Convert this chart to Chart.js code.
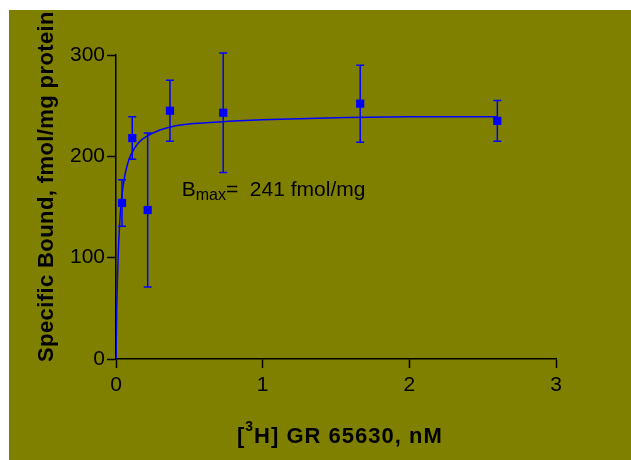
<!DOCTYPE html>
<html>
<head>
<meta charset="utf-8">
<script src="https://cdn.jsdelivr.net/npm/chart.js@4.4.1/dist/chart.umd.min.js"></script>
<style>
    html, body { margin: 0; padding: 0; background: #ffffff; }
    #wrap {
        position: absolute;
        left: 9px; top: 10px;
        width: 622px; height: 450px;
        background: #808000;
    }
</style>
</head>
<body>
<div id="wrap"><canvas id="chart"></canvas></div>
<script>
// Measured points (concentration, nM) with SEM
const doseX = [0.041, 0.111, 0.216, 0.368, 0.731, 1.665, 2.6];
const boundY = [154, 218, 147, 245, 243, 252, 235];
const boundErr = [23, 21, 76, 30, 59, 38, 20];

// Fitted saturation curve
const curveX = [0, 0.005, 0.01, 0.02, 0.03, 0.04, 0.06, 0.08, 0.1, 0.15, 0.2, 0.3, 0.4, 0.5, 0.7, 1, 1.5, 2, 2.6];
const curveY = [0, 48, 80, 120, 145, 161, 181, 193, 201, 213, 219, 226, 230, 232, 234, 236, 238, 239, 239];

const xTicks = [0, 1, 2, 3];
const yTicks = [0, 100, 200, 300];

const BLUE = '#0000ff';
const FONT = "'Liberation Sans', Arial, sans-serif";

// Bmax annotation anchor (data coords)
const bmaxAt = { x: 0.448, y: 161 };

const errorBars = {
    id: 'errorBars',
    afterDatasetsDraw(chart) {
        const { ctx, scales: { x, y } } = chart;
        ctx.save();
        ctx.strokeStyle = BLUE;
        ctx.lineWidth = 1.5;
        doseX.forEach((dx, i) => {
            const px = x.getPixelForValue(dx);
            const top = y.getPixelForValue(boundY[i] + boundErr[i]);
            const bot = y.getPixelForValue(boundY[i] - boundErr[i]);
            ctx.beginPath();
            ctx.moveTo(px, top); ctx.lineTo(px, bot);
            ctx.moveTo(px - 4, top); ctx.lineTo(px + 4, top);
            ctx.moveTo(px - 4, bot); ctx.lineTo(px + 4, bot);
            ctx.stroke();
        });
        ctx.restore();
    }
};

const labels = {
    id: 'labels',
    afterDraw(chart) {
        const { ctx, scales: { x, y } } = chart;
        ctx.save();
        ctx.fillStyle = '#000';
        ctx.textBaseline = 'alphabetic';

        // y title
        ctx.save();
        ctx.translate(44, 352);
        ctx.rotate(-Math.PI / 2);
        ctx.font = 'bold 22px ' + FONT;
        ctx.letterSpacing = '0.4px';
        ctx.textAlign = 'left';
        ctx.fillText('Specific Bound, fmol/mg protein', 0, 0);
        ctx.restore();

        // x title with superscript
        ctx.textAlign = 'left';
        ctx.letterSpacing = '1px';
        let cx = 228;
        const base = 433;
        ctx.font = 'bold 22px ' + FONT;
        ctx.fillText('[', cx, base);
        cx += ctx.measureText('[').width;
        ctx.font = 'bold 14px ' + FONT;
        ctx.fillText('3', cx, base - 12);
        cx += ctx.measureText('3').width;
        ctx.font = 'bold 22px ' + FONT;
        ctx.fillText('H] GR 65630, nM', cx, base);

        // Bmax annotation
        ctx.letterSpacing = '0px';
        let bx = x.getPixelForValue(bmaxAt.x);
        const by = y.getPixelForValue(bmaxAt.y);
        ctx.font = '21px ' + FONT;
        ctx.fillText('B', bx, by);
        bx += ctx.measureText('B').width;
        ctx.font = '16px ' + FONT;
        ctx.fillText('max', bx, by + 4);
        bx += ctx.measureText('max').width;
        ctx.font = '21px ' + FONT;
        ctx.fillText('=  241 fmol/mg', bx, by);
        ctx.restore();
    }
};

const axisStyle = {
    grid: {
        drawOnChartArea: false,
        drawTicks: true,
        tickLength: 9,
        tickColor: '#000',
        tickWidth: 1.5
    },
    border: { display: true, color: '#000', width: 1.5 },
    ticks: {
        color: '#000',
        font: { family: FONT, size: 21 },
        padding: 2
    }
};

new Chart(document.getElementById('chart'), {
    type: 'scatter',
    data: {
        datasets: [
            {
                type: 'line',
                data: curveX.map((v, i) => ({ x: v, y: curveY[i] })),
                borderColor: BLUE,
                borderWidth: 1.5,
                pointRadius: 0,
                cubicInterpolationMode: 'monotone',
                fill: false
            },
            {
                data: doseX.map((v, i) => ({ x: v, y: boundY[i] })),
                pointStyle: 'rect',
                pointRadius: 5.8,
                backgroundColor: BLUE,
                borderWidth: 0
            }
        ]
    },
    options: {
        responsive: true,
        maintainAspectRatio: false,
        animation: false,
        layout: { padding: { top: 45, right: 75, left: 0, bottom: 0 } },
        plugins: {
            legend: { display: false },
            tooltip: { enabled: false }
        },
        scales: {
            x: {
                type: 'linear',
                min: 0, max: 3,
                grid: axisStyle.grid,
                border: axisStyle.border,
                ticks: { ...axisStyle.ticks, stepSize: 1, padding: 5,
                    callback: v => xTicks.includes(v) ? v : '' },
                afterFit(scale) { scale.height = 101; }
            },
            y: {
                min: 0, max: 300,
                grid: axisStyle.grid,
                border: axisStyle.border,
                ticks: { ...axisStyle.ticks, stepSize: 100,
                    callback: v => yTicks.includes(v) ? v : '' },
                afterFit(scale) { scale.width = 107; }
            }
        }
    },
    plugins: [errorBars, labels]
});
</script>
</body>
</html>
